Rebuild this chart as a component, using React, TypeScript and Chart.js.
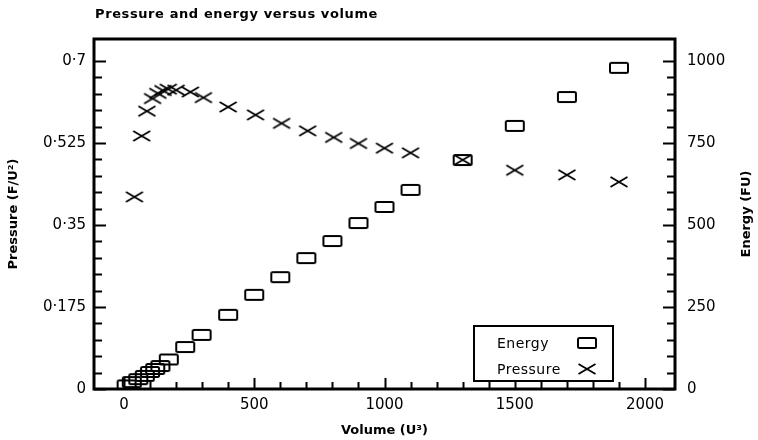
import React, { useEffect, useRef } from "react";
import { Chart, registerables } from "chart.js";

Chart.register(...registerables);

// ---- data ----
const energyVolume = [10, 30, 55, 80, 100, 120, 140, 172, 235, 298, 400, 500, 600, 700, 800, 900, 1000, 1100, 1300, 1500, 1700, 1900];
const energyValues = [11, 21, 30, 40, 52, 61, 70, 90, 128, 165, 226, 287, 341, 399, 451, 506, 555, 607, 698, 802, 890, 979];
const pressureVolume = [40, 68, 88, 110, 130, 150, 170, 200, 255, 305, 400, 505, 605, 705, 805, 900, 1000, 1100, 1300, 1500, 1700, 1900];
const pressureValues = [0.41, 0.54, 0.593, 0.62, 0.631, 0.637, 0.64, 0.638, 0.634, 0.622, 0.602, 0.585, 0.567, 0.551, 0.537, 0.524, 0.514, 0.504, 0.489, 0.467, 0.457, 0.442];

const volumeTicks = [0, 500, 1000, 1500, 2000];
const pressureTicks = [0, 0.175, 0.35, 0.525, 0.7];
const energyTicks = [0, 250, 500, 750, 1000];

const titleText = "Pressure and energy versus volume";
const xTitle = "Volume (U\u00b3)";
const yTitle = "Pressure (F/U\u00b2)";
const y1Title = "Energy (FU)";
const legendLabels = ["Energy", "Pressure"];

const FONT = "'DejaVu Sans', sans-serif";

function makeRectMarker(): HTMLCanvasElement {
  const c = document.createElement("canvas");
  c.width = 22;
  c.height = 14;
  const g = c.getContext("2d")!;
  g.strokeStyle = "#000";
  g.lineWidth = 2;
  g.beginPath();
  (g as any).roundRect(2, 2, 18, 10, 1.5);
  g.stroke();
  return c;
}

function makeCrossMarker(): HTMLCanvasElement {
  const c = document.createElement("canvas");
  c.width = 20;
  c.height = 14;
  const g = c.getContext("2d")!;
  g.strokeStyle = "#000";
  g.lineWidth = 1.8;
  g.beginPath();
  g.moveTo(1.5, 2);
  g.lineTo(18.5, 12);
  g.moveTo(1.5, 12);
  g.lineTo(18.5, 2);
  g.stroke();
  return c;
}

const framePlugin = {
  id: "frame",
  afterDraw(chart: any) {
    const ctx = chart.ctx as CanvasRenderingContext2D;
    const a = chart.chartArea;
    const x = chart.scales.x;
    const y = chart.scales.y;
    const y1 = chart.scales.y1;
    ctx.save();
    ctx.strokeStyle = "#000";
    // ticks
    ctx.lineWidth = 2;
    ctx.beginPath();
    for (let v = 0; v <= 2000; v += 100) {
      const px = Math.round(x.getPixelForValue(v)) + 0.5;
      const len = v % 500 === 0 ? 11 : 7;
      ctx.moveTo(px, a.bottom);
      ctx.lineTo(px, a.bottom - len);
    }
    for (let i = 0; i <= 20; i++) {
      const py = Math.round(y.getPixelForValue(i * 0.035)) + 0.5;
      const len = i % 5 === 0 ? 12 : 8;
      ctx.moveTo(a.left, py);
      ctx.lineTo(a.left + len, py);
    }
    for (let v = 0; v <= 1000; v += 50) {
      const py = Math.round(y1.getPixelForValue(v)) + 0.5;
      const len = v % 250 === 0 ? 12 : 8;
      ctx.moveTo(a.right, py);
      ctx.lineTo(a.right - len, py);
    }
    ctx.stroke();
    // frame
    ctx.lineWidth = 3;
    ctx.strokeRect(a.left, a.top, a.right - a.left, a.bottom - a.top);

    // legend
    const lx = 474, ly = 326, lw = 139, lh = 55;
    ctx.fillStyle = "#fff";
    ctx.fillRect(lx, ly, lw, lh);
    ctx.lineWidth = 2;
    ctx.strokeRect(lx, ly, lw, lh);
    ctx.fillStyle = "#000";
    ctx.font = `14px ${FONT}`;
    ctx.textAlign = "left";
    ctx.textBaseline = "middle";
    (ctx as any).letterSpacing = "0.5px";
    ctx.fillText(legendLabels[0], 497, 344);
    ctx.fillText(legendLabels[1], 497, 370);
    (ctx as any).letterSpacing = "0px";
    const r = chart.data.datasets[0].pointStyle as HTMLCanvasElement;
    const c = chart.data.datasets[1].pointStyle as HTMLCanvasElement;
    ctx.drawImage(r, 587 - r.width / 2, 343 - r.height / 2);
    ctx.drawImage(c, 587 - c.width / 2, 369 - c.height / 2);

    // title
    ctx.font = `bold 13px ${FONT}`;
    (ctx as any).letterSpacing = "0.6px";
    ctx.textBaseline = "middle";
    ctx.fillText(titleText, 95, 15);
    (ctx as any).letterSpacing = "0px";

    // right axis title, reading bottom to top
    ctx.save();
    ctx.translate(747, (a.top + a.bottom) / 2);
    ctx.rotate(-Math.PI / 2);
    ctx.textAlign = "center";
    ctx.font = `bold 13px ${FONT}`;
    ctx.fillText(y1Title, 0, 0);
    ctx.restore();
    ctx.restore();
  },
};

export default function App() {
  const ref = useRef<HTMLCanvasElement>(null);
  useEffect(() => {
    const rect = makeRectMarker();
    const cross = makeCrossMarker();
    const tickFont = { family: FONT, size: 15 };
    const titleFont = { family: FONT, size: 13, weight: "bold" as const };
    const chart = new Chart(ref.current!, {
      type: "scatter",
      data: {
        datasets: [
          {
            label: legendLabels[0],
            data: energyVolume.map((v, i) => ({ x: v, y: energyValues[i] })),
            yAxisID: "y1",
            pointStyle: rect as any,
            pointRadius: 9,
          },
          {
            label: legendLabels[1],
            data: pressureVolume.map((v, i) => ({ x: v, y: pressureValues[i] })),
            yAxisID: "y",
            pointStyle: cross as any,
            pointRadius: 9,
          },
        ],
      },
      options: {
        animation: false,
        responsive: false,
        devicePixelRatio: 1,
        layout: { padding: { top: 39, left: 0, right: 0, bottom: 0 } },
        plugins: { legend: { display: false }, tooltip: { enabled: false }, title: { display: false } },
        scales: {
          x: {
            type: "linear",
            min: -115,
            max: 2115,
            afterBuildTicks: (s: any) => {
              s.ticks = volumeTicks.map((v) => ({ value: v }));
            },
            afterFit: (s: any) => {
              s.height = 51;
            },
            grid: { display: false, drawTicks: false },
            border: { display: false },
            ticks: { color: "#000", font: tickFont, padding: 7, maxRotation: 0, autoSkip: false, callback: (v: any) => String(v) },
            title: { display: true, text: xTitle, color: "#000", font: titleFont, padding: { top: 0, bottom: 2 } },
          },
          y: {
            type: "linear",
            position: "left",
            min: 0,
            max: 0.747,
            afterBuildTicks: (s: any) => {
              s.ticks = pressureTicks.map((v) => ({ value: v }));
            },
            afterFit: (s: any) => {
              s.width = 94;
            },
            grid: { display: false, drawTicks: false },
            border: { display: false },
            ticks: {
              color: "#000",
              font: tickFont,
              padding: 8,
              autoSkip: false,
              callback: (v: any) => String(v).replace(".", "\u00b7"),
            },
            title: { display: true, text: yTitle, color: "#000", font: titleFont, padding: { top: 6, bottom: 0 } },
          },
          y1: {
            type: "linear",
            position: "right",
            min: 0,
            max: 1067,
            afterBuildTicks: (s: any) => {
              s.ticks = energyTicks.map((v) => ({ value: v }));
            },
            afterFit: (s: any) => {
              s.width = 83;
            },
            grid: { display: false, drawTicks: false },
            border: { display: false },
            ticks: { color: "#000", font: tickFont, padding: 12, autoSkip: false, callback: (v: any) => String(v) },
            title: { display: false },
          },
        },
      },
      plugins: [framePlugin],
    });
    return () => chart.destroy();
  }, []);
  return (
    <div style={{ position: "fixed", left: 0, top: 0, width: 758, height: 440, background: "#fff" }}>
      <canvas ref={ref} width={758} height={440} style={{ display: "block" }} />
    </div>
  );
}
